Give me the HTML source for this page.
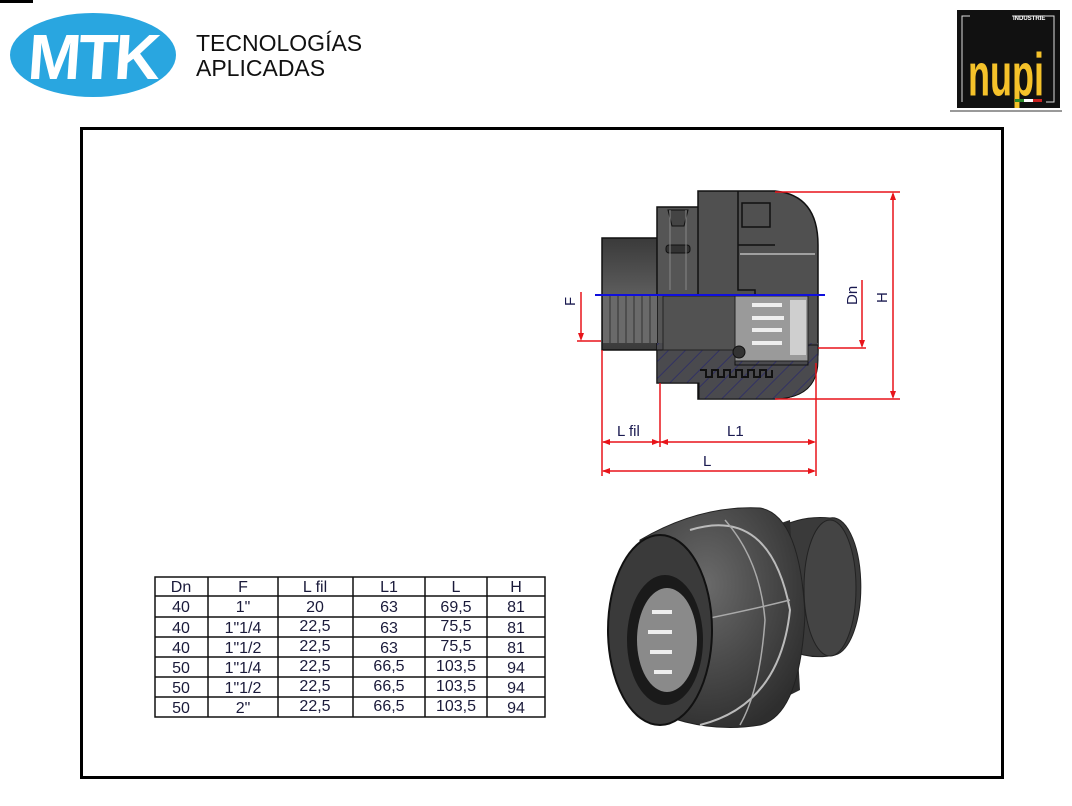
<!DOCTYPE html>
<html><head><meta charset="utf-8"><style>
html,body{margin:0;padding:0;background:#fff;width:1072px;height:806px;overflow:hidden;font-family:"Liberation Sans",sans-serif}
svg{position:absolute;left:0;top:0}
</style></head><body>
<svg width="1072" height="806" viewBox="0 0 1072 806" xmlns="http://www.w3.org/2000/svg">
<defs>
<pattern id="hatch" patternUnits="userSpaceOnUse" width="12" height="12" patternTransform="rotate(45)">
<rect width="12" height="12" fill="#4a4a4e"/><line x1="0" y1="0" x2="0" y2="12" stroke="#2a2a6a" stroke-width="1.5"/></pattern>
<radialGradient id="g3d" cx="40%" cy="35%" r="70%"><stop offset="0" stop-color="#6a6a6a"/><stop offset="1" stop-color="#2e2e2e"/></radialGradient>
<linearGradient id="gb" x1="0" y1="0" x2="0" y2="1"><stop offset="0" stop-color="#3a3a3a"/><stop offset="0.5" stop-color="#5c5c5c"/><stop offset="1" stop-color="#3a3a3a"/></linearGradient>
</defs>
<rect x="0" y="0" width="33" height="3" fill="#000"/>
<!-- MTK logo -->
<ellipse cx="93" cy="55" rx="83" ry="42" fill="#29a6e0"/>
<text x="93" y="79" text-anchor="middle" font-family="Liberation Sans" font-weight="bold" font-size="64" fill="#fff" letter-spacing="-3" transform="skewX(-4) translate(4,0)">MTK</text>
<text x="196" y="51" font-family="Liberation Sans" font-size="23" fill="#111">TECNOLOGÍAS</text>
<text x="196" y="76" font-family="Liberation Sans" font-size="23" fill="#111">APLICADAS</text>
<!-- NUPI logo -->
<rect x="957" y="10" width="103" height="98" fill="#111"/>
<path d="M1012 16 H1054 V102 H1046" fill="none" stroke="#ddd" stroke-width="1"/>
<path d="M962 102 V16 H970" fill="none" stroke="#ddd" stroke-width="1"/>
<text x="1013" y="20" font-size="6" fill="#fff" font-weight="bold">INDUSTRIE</text>
<text x="1006" y="85" text-anchor="middle" font-family="Liberation Sans" font-weight="bold" font-size="40" fill="#f5c22a" textLength="76" lengthAdjust="spacingAndGlyphs" transform="translate(0,-32) scale(1,1.5)">nupi</text>
<rect x="1015" y="99" width="9" height="3" fill="#2a8a2a"/><rect x="1024" y="99" width="9" height="3" fill="#fff"/><rect x="1033" y="99" width="9" height="3" fill="#c22"/>
<line x1="950" y1="111" x2="1062" y2="111" stroke="#333" stroke-width="1"/>
<!-- frame -->
<rect x="81.5" y="128.5" width="921" height="649" fill="none" stroke="#000" stroke-width="3"/>
<!-- cross-section -->
<rect x="602" y="238" width="56" height="112" fill="url(#gb)" stroke="#111" stroke-width="1.5"/>
<rect x="657" y="207" width="42" height="176" fill="#555" stroke="#111" stroke-width="1.5"/>
<path d="M698 191 H775 Q818 195 818 245 V350 Q818 398 775 399 H698 Z" fill="#505050" stroke="#111" stroke-width="1.5"/>
<path d="M602 343 H657 V383 H699 V399 H775 Q818 398 818 360 V343 Z" fill="url(#hatch)"/>
<path d="M657 350 H735 V365 H808 V345 H818 V360 Q818 398 775 399 H699 V383 H657 Z" fill="url(#hatch)" stroke="#111"/>
<path d="M700 370 h6 v7 h6 v-7 h6 v7 h6 v-7 h6 v7 h6 v-7 h6 v7 h6 v-7 h6 v7 h6 v-7 h6 v7 h6 v-7" fill="none" stroke="#111" stroke-width="2"/>
<rect x="603" y="296" width="54" height="47" fill="#6a6a6a"/>
<g stroke="#444" stroke-width="1.5"><line x1="610" y1="296" x2="610" y2="343"/><line x1="618" y1="296" x2="618" y2="343"/><line x1="626" y1="296" x2="626" y2="343"/><line x1="634" y1="296" x2="634" y2="343"/><line x1="642" y1="296" x2="642" y2="343"/><line x1="650" y1="296" x2="650" y2="343"/></g>
<rect x="663" y="296" width="72" height="54" fill="#525252" stroke="#222"/>
<rect x="735" y="296" width="73" height="65" fill="#9a9a9a" stroke="#222"/>
<path d="M752 305 h30 M752 318 h32 M752 330 h30 M752 343 h30" stroke="#eee" stroke-width="4"/>
<rect x="790" y="300" width="16" height="55" fill="#cfcfcf"/>
<circle cx="739" cy="352" r="6" fill="#333" stroke="#111"/>
<rect x="742" y="203" width="28" height="24" fill="none" stroke="#111" stroke-width="1.5"/>
<path d="M738 191 V245 H775 M738 245 V290 H755 V296" fill="none" stroke="#111" stroke-width="1.5"/>
<path d="M740 254 H815" stroke="#bbb" stroke-width="1.5"/>
<path d="M668 210 L688 210 L684 226 H672 Z" fill="#444" stroke="#111"/>
<rect x="666" y="245" width="24" height="8" rx="3" fill="#333" stroke="#111"/>
<line x1="670" y1="210" x2="670" y2="290" stroke="#888"/><line x1="686" y1="210" x2="686" y2="290" stroke="#888"/>
<line x1="595" y1="295" x2="825" y2="295" stroke="#1010dd" stroke-width="2"/>
<g stroke="#e8141a" stroke-width="1.5" fill="none">
<line x1="775" y1="192" x2="900" y2="192"/><line x1="775" y1="399" x2="900" y2="399"/>
<line x1="893" y1="194" x2="893" y2="397"/>
<line x1="818" y1="348" x2="866" y2="348"/><line x1="862" y1="280" x2="862" y2="346"/>
<line x1="577" y1="341" x2="601" y2="341"/><line x1="581" y1="292" x2="581" y2="338"/>
<line x1="602" y1="350" x2="602" y2="476"/><line x1="660" y1="383" x2="660" y2="447"/><line x1="816" y1="363" x2="816" y2="476"/>
<line x1="603" y1="442" x2="814" y2="442"/><line x1="603" y1="471" x2="814" y2="471"/>
</g>
<g fill="#e8141a">
<path d="M893 192 l-3 8 h6z"/><path d="M893 399 l-3 -8 h6z"/>
<path d="M862 348 l-3 -8 h6z"/><path d="M581 341 l-3 -8 h6z"/>
<path d="M602 442 l8 -3 v6z"/><path d="M660 442 l-8 -3 v6z"/><path d="M660 442 l8 -3 v6z"/><path d="M816 442 l-8 -3 v6z"/>
<path d="M602 471 l8 -3 v6z"/><path d="M816 471 l-8 -3 v6z"/>
</g>
<g font-family="Liberation Sans" font-size="15" fill="#1a1a50">
<text x="617" y="436">L fil</text><text x="727" y="436">L1</text><text x="703" y="466">L</text>
<text transform="translate(857,305) rotate(-90)">Dn</text>
<text transform="translate(887,303) rotate(-90)">H</text>
<text transform="translate(575,306) rotate(-90)">F</text>
</g>
<!-- 3D render -->
<path d="M775 530 Q800 515 830 518 A28 68 0 0 1 835 655 Q810 660 790 650 Z" fill="#3a3a3a" stroke="#222"/>
<ellipse cx="830" cy="588" rx="26" ry="68" fill="#444" stroke="#222"/>
<path d="M775 525 L790 520 L800 690 L780 700 Z" fill="#2c2c2c"/>
<path d="M640 540 Q700 505 760 508 Q800 515 805 615 Q800 715 760 725 Q700 735 640 705 Z" fill="url(#g3d)" stroke="#222"/>
<path d="M690 530 Q770 505 790 610 Q780 705 700 725" fill="none" stroke="#bbb" stroke-width="2"/>
<path d="M725 520 Q760 560 765 620 Q760 690 740 725" fill="none" stroke="#aaa" stroke-width="1.5"/>
<path d="M700 620 Q750 610 790 600" fill="none" stroke="#aaa" stroke-width="1.5"/>
<ellipse cx="660" cy="630" rx="52" ry="95" fill="#3a3a3a" stroke="#111" stroke-width="2"/>
<ellipse cx="665" cy="640" rx="38" ry="65" fill="#1a1a1a"/>
<ellipse cx="667" cy="640" rx="30" ry="52" fill="#8a8a8a"/>
<path d="M652 612 h20 M648 632 h24 M650 652 h22 M654 672 h18" stroke="#eee" stroke-width="4"/>
<!-- table -->
<g stroke="#111" stroke-width="1.5" fill="none">
<rect x="155" y="577" width="390" height="140"/>
<line x1="208" y1="577" x2="208" y2="717"/><line x1="278" y1="577" x2="278" y2="717"/><line x1="353" y1="577" x2="353" y2="717"/><line x1="425" y1="577" x2="425" y2="717"/><line x1="487" y1="577" x2="487" y2="717"/>
<line x1="155" y1="596" x2="545" y2="596"/><line x1="155" y1="617" x2="545" y2="617"/><line x1="155" y1="637" x2="545" y2="637"/><line x1="155" y1="657" x2="545" y2="657"/><line x1="155" y1="677" x2="545" y2="677"/><line x1="155" y1="697" x2="545" y2="697"/>
</g>
<g font-family="Liberation Sans" font-size="16" fill="#1a1a3a" text-anchor="middle">
<text x="181" y="592">Dn</text><text x="243" y="592">F</text><text x="315" y="592">L fil</text><text x="389" y="592">L1</text><text x="456" y="592">L</text><text x="516" y="592">H</text>
<text x="181" y="612">40</text><text x="243" y="612">1"</text><text x="315" y="612">20</text><text x="389" y="612">63</text><text x="456" y="612">69,5</text><text x="516" y="612">81</text>
<text x="181" y="633">40</text><text x="243" y="633">1"1/4</text><text x="315" y="631">22,5</text><text x="389" y="633">63</text><text x="456" y="631">75,5</text><text x="516" y="633">81</text>
<text x="181" y="653">40</text><text x="243" y="653">1"1/2</text><text x="315" y="651">22,5</text><text x="389" y="653">63</text><text x="456" y="651">75,5</text><text x="516" y="653">81</text>
<text x="181" y="673">50</text><text x="243" y="673">1"1/4</text><text x="315" y="671">22,5</text><text x="389" y="671">66,5</text><text x="456" y="671">103,5</text><text x="516" y="673">94</text>
<text x="181" y="693">50</text><text x="243" y="693">1"1/2</text><text x="315" y="691">22,5</text><text x="389" y="691">66,5</text><text x="456" y="691">103,5</text><text x="516" y="693">94</text>
<text x="181" y="713">50</text><text x="243" y="713">2"</text><text x="315" y="711">22,5</text><text x="389" y="711">66,5</text><text x="456" y="711">103,5</text><text x="516" y="713">94</text>
</g>
</svg>
</body></html>
